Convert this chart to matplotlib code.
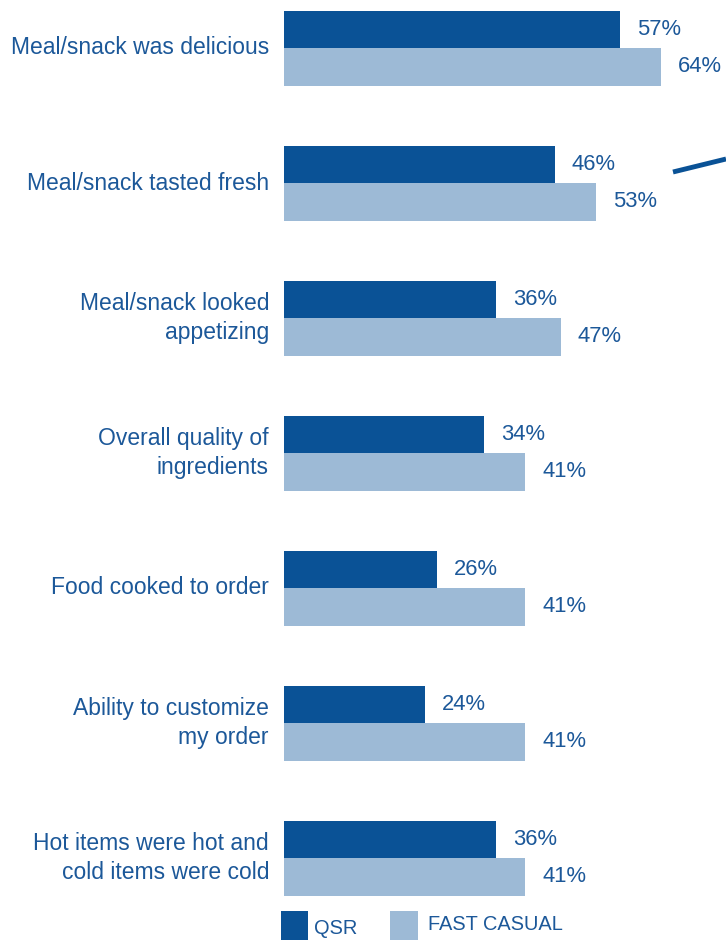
import matplotlib
matplotlib.use("Agg")
import matplotlib.pyplot as plt
from matplotlib.lines import Line2D
from matplotlib.patches import Rectangle

categories = [
    "Meal/snack was delicious",
    "Meal/snack tasted fresh",
    "Meal/snack looked\nappetizing",
    "Overall quality of\ningredients",
    "Food cooked to order",
    "Ability to customize\nmy order",
    "Hot items were hot and\ncold items were cold",
]
qsr = [57, 46, 36, 34, 26, 24, 36]
fast_casual = [64, 53, 47, 41, 41, 41, 41]
series_names = ["QSR", "FAST CASUAL"]

DARK = "#0a5296"
LIGHT = "#9dbad6"
TEXT = "#1c5899"
FONT = "Liberation Sans"

W, H = 726, 940
fig = plt.figure(figsize=(W / 100, H / 100), dpi=100)
left_px = 284
ax = fig.add_axes([left_px / W, 0, (W - left_px) / W, 1])
px_per_pct = 5.89
ax.set_xlim(0, (W - left_px) / px_per_pct)
unit = 135.0
ax.set_ylim(H / unit, 0)
ax.axis("off")

bh = 37.5 / unit
offset0 = 48 / unit
for i, (cat, q, f) in enumerate(zip(categories, qsr, fast_casual)):
    yc = offset0 + i
    ax.barh(yc - bh / 2, q, height=bh, color=DARK, edgecolor="none")
    ax.barh(yc + bh / 2, f, height=bh, color=LIGHT, edgecolor="none")
    ax.text(q + 17 / px_per_pct, yc - bh / 2, f"{q}%", va="center", ha="left",
            color=TEXT, fontsize=15.8, family=FONT)
    ax.text(f + 17 / px_per_pct, yc + bh / 2, f"{f}%", va="center", ha="left",
            color=TEXT, fontsize=15.8, family=FONT)
    ax.text(-15 / px_per_pct, yc, cat, va="center", ha="right", color=TEXT,
            fontsize=16.5, family=FONT, linespacing=1.35, clip_on=False)

# legend
fig.patches.append(Rectangle((281 / W, 0), 27 / W, 29 / H, transform=fig.transFigure,
                             facecolor=DARK, edgecolor="none"))
fig.text(314 / W, 12 / H, series_names[0], color=TEXT, fontsize=14.4, family=FONT, va="center")
fig.patches.append(Rectangle((390 / W, 0), 28 / W, 29 / H, transform=fig.transFigure,
                             facecolor=LIGHT, edgecolor="none"))
fig.text(428 / W, 15 / H, series_names[1], color=TEXT, fontsize=14.4, family=FONT, va="center")

# cut-off annotation stroke at top right
fig.lines.append(Line2D([673 / W, 1.0], [1 - 172 / H, 1 - 159 / H], transform=fig.transFigure,
                        color=DARK, linewidth=3.5, solid_capstyle="butt"))

fig.savefig("out.png", dpi=100, facecolor="white")
